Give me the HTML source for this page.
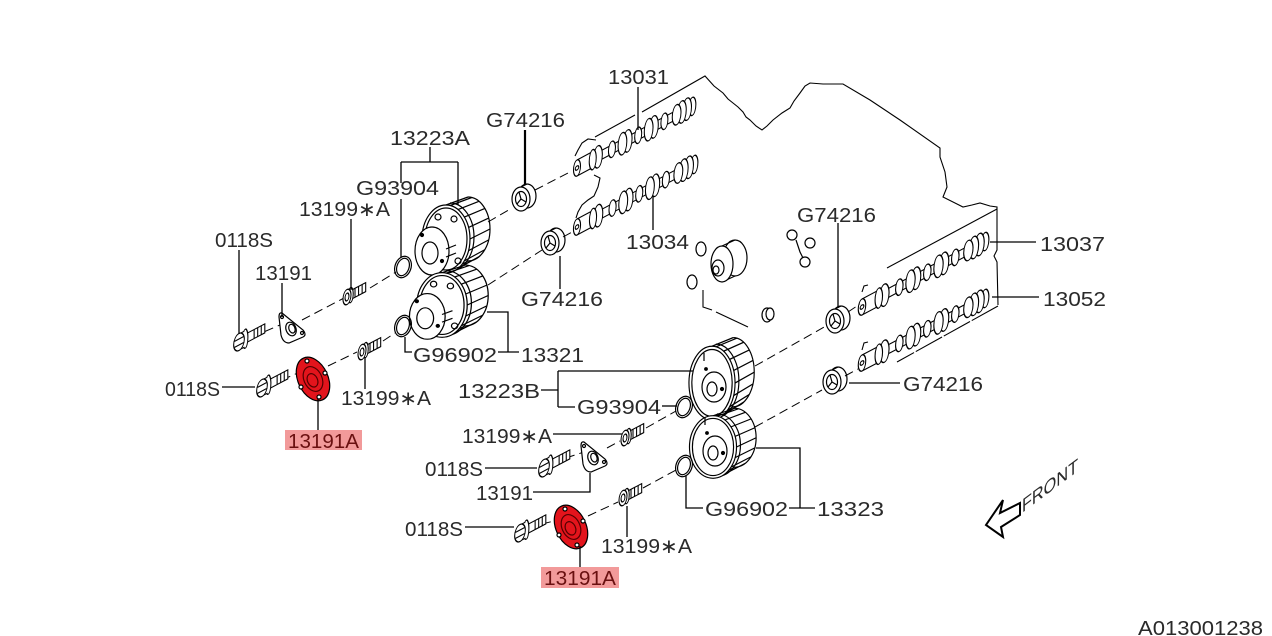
<!DOCTYPE html>
<html><head><meta charset="utf-8"><style>
html,body{margin:0;padding:0;background:#fff;}
svg{display:block;}
text{font-family:"Liberation Sans",sans-serif;font-size:20px;fill:#2a2a2a;}
</style></head><body>
<svg width="1272" height="636" viewBox="0 0 1272 636" xmlns="http://www.w3.org/2000/svg">
<defs>
<g id="cam" stroke="#000" stroke-width="1.2" fill="#fff">
  <rect x="16" y="-4.5" width="104" height="9"/>
  <ellipse cx="132" cy="0" rx="4" ry="9"/>
  <ellipse cx="126" cy="0" rx="5" ry="11"/>
  <ellipse cx="120" cy="0" rx="5" ry="11"/>
  <ellipse cx="114" cy="0" rx="5" ry="10"/>
  <ellipse cx="100" cy="0" rx="4" ry="8"/>
  <ellipse cx="88" cy="0" rx="5" ry="11"/>
  <ellipse cx="82" cy="0" rx="5" ry="11"/>
  <ellipse cx="70" cy="0" rx="4" ry="8"/>
  <ellipse cx="58" cy="0" rx="5" ry="11"/>
  <ellipse cx="52" cy="0" rx="5" ry="11"/>
  <ellipse cx="40" cy="0" rx="4" ry="8"/>
  <ellipse cx="24" cy="0" rx="5" ry="11"/>
  <rect x="0" y="-8" width="20" height="16" stroke="none"/>
  <line x1="0" y1="-8" x2="20" y2="-8"/>
  <line x1="0" y1="8" x2="20" y2="8"/>
  <ellipse cx="18" cy="0" rx="4" ry="10"/>
  <ellipse cx="0" cy="0" rx="4" ry="8"/>
  <circle cx="0" cy="0" r="2"/>
</g>
<g id="spr" stroke="#000" stroke-width="1.2" fill="none">
  <path d="M22,-42 A22,32 0 0 1 22,22"/>
  <path d="M4,-36 A24,34 0 0 1 4,32"/>
  <line x1="0" y1="-34" x2="22" y2="-42"/>
  <line x1="0" y1="34" x2="22" y2="22"/>
  <line x1="4.2" y1="-33.5" x2="25.8" y2="-41.5"/>
  <line x1="12" y1="-29.4" x2="33" y2="-37.7"/>
  <line x1="18.4" y1="-21.9" x2="38.9" y2="-30.6"/>
  <line x1="22.6" y1="-11.6" x2="42.7" y2="-20.9"/>
  <line x1="24" y1="0" x2="44" y2="-10"/>
  <line x1="22.6" y1="11.6" x2="42.7" y2="0.9"/>
  <line x1="18.4" y1="21.9" x2="38.9" y2="10.6"/>
  <line x1="12" y1="29.4" x2="33" y2="17.7"/>
  <line x1="4.2" y1="33.5" x2="25.8" y2="21.5"/>
  <ellipse cx="0" cy="0" rx="24" ry="34" fill="#fff"/>
  <ellipse cx="0" cy="0" rx="21" ry="31"/>
</g>
<g id="vvt" stroke="#000" stroke-width="1.2" fill="none">
  <ellipse cx="-14" cy="12" rx="17" ry="24" fill="#fff"/>
  <ellipse cx="-16" cy="14" rx="8" ry="11"/>
  <circle cx="-8" cy="-22" r="3"/>
  <circle cx="8" cy="-20" r="3"/>
  <circle cx="12" cy="22" r="3"/>
  <circle cx="-24" cy="-4" r="1.5" fill="#000"/>
  <circle cx="-4" cy="22" r="1.5" fill="#000"/>
  <line x1="0" y1="10" x2="10" y2="6"/>
  <line x1="0" y1="18" x2="10" y2="14"/>
</g>
<g id="face" stroke="#000" stroke-width="1.2" fill="none">
  <ellipse cx="2" cy="4" rx="12" ry="15"/>
  <ellipse cx="0" cy="6" rx="5" ry="7"/>
  <line x1="-8" y1="-30" x2="-8" y2="-22"/>
  <circle cx="-6" cy="-14" r="1.3" fill="#000"/>
  <circle cx="10" cy="6" r="1.5" fill="#000"/>
</g>
<g id="seal" stroke="#000" stroke-width="1.2" fill="none">
  <ellipse cx="6" cy="-3" rx="9" ry="12"/>
  <line x1="0" y1="-12" x2="6" y2="-15"/>
  <line x1="0" y1="12" x2="6" y2="9"/>
  <ellipse cx="0" cy="0" rx="9" ry="12" fill="#fff"/>
  <ellipse cx="0" cy="0" rx="5.5" ry="7.5"/>
  <line x1="0" y1="0" x2="-2" y2="-7"/>
  <line x1="0" y1="0" x2="5" y2="3"/>
  <line x1="0" y1="0" x2="-4" y2="5"/>
</g>
<g id="oring" stroke="#000" stroke-width="1.2" fill="none">
  <ellipse cx="0" cy="0" rx="8" ry="11" transform="rotate(20)"/>
  <ellipse cx="0" cy="0" rx="6" ry="9" transform="rotate(20)"/>
</g>
<g id="b1" stroke="#000" stroke-width="1.2" fill="#fff">
  <rect x="4" y="-4.5" width="17" height="9"/>
  <line x1="9" y1="-4.5" x2="9" y2="4.5"/>
  <line x1="13" y1="-4.5" x2="13" y2="4.5"/>
  <line x1="17" y1="-4.5" x2="17" y2="4.5"/>
  <ellipse cx="4" cy="0" rx="3" ry="7.5"/>
  <ellipse cx="0" cy="0" rx="4.5" ry="7.5"/>
  <ellipse cx="0" cy="0" rx="2.2" ry="3.8"/>
</g>
<g id="b2" stroke="#000" stroke-width="1.2" fill="#fff">
  <rect x="7" y="-4.5" width="22" height="9"/>
  <line x1="17" y1="-4.5" x2="17" y2="4.5"/>
  <line x1="21" y1="-4.5" x2="21" y2="4.5"/>
  <line x1="25" y1="-4.5" x2="25" y2="4.5"/>
  <ellipse cx="7" cy="0" rx="3" ry="9.5"/>
  <rect x="0" y="-8" width="6" height="16" stroke="none"/>
  <line x1="0" y1="-8" x2="6" y2="-8"/>
  <line x1="0" y1="8" x2="6" y2="8"/>
  <ellipse cx="0" cy="0" rx="6" ry="8.5"/>
  <line x1="-5" y1="-3" x2="5" y2="-3"/>
  <line x1="-5" y1="3" x2="5" y2="3"/>
</g>
<g id="plt" stroke="#000" stroke-width="1.2" fill="#fff">
  <path d="M-9,-16 L12,1 Q16,6 12,8 L-2,14 Q-8,14 -10,6 L-12,-12 Q-12,-17 -9,-16 Z"/>
  <ellipse cx="0" cy="0" rx="5" ry="7" transform="rotate(-20)"/>
  <ellipse cx="1" cy="0" rx="3" ry="4.5" transform="rotate(-20)"/>
  <circle cx="-9" cy="-12" r="1.5"/>
  <circle cx="11" cy="4" r="1.5"/>
</g>
<g id="red" stroke="#000" stroke-width="1.2">
  <ellipse cx="0" cy="0" rx="15" ry="23" transform="rotate(-25)" fill="#e3141c"/>
  <ellipse cx="0" cy="0" rx="9" ry="13" transform="rotate(-25)" fill="none" stroke="#500"/>
  <ellipse cx="-1" cy="1" rx="5" ry="7" transform="rotate(-25)" fill="none" stroke="#500"/>
  <circle cx="-6" cy="-18" r="2" fill="#fff"/>
  <circle cx="12" cy="-6" r="2" fill="#fff"/>
  <circle cx="-12" cy="8" r="2" fill="#fff"/>
  <circle cx="6" cy="18" r="2" fill="#fff"/>
</g>
</defs>

<!-- engine block outline -->
<g stroke="#000" stroke-width="1.1" fill="none">
  <polyline points="642,112 705,76 714,86 723,93 728,99 733,103 738,107 743,112 746,117 750,120 756,126 762,130 767,126 773,120 782,113 790,108 794,101 800,93 805,86 810,83 823,84 833,84 843,84 870,100 900,120 940,148 940,157 945,172 947,187 943,197 955,203 963,207 972,205 980,203 990,206 997,207 997,250 994,256 997,262 998,305"/>
  <line x1="997" y1="209" x2="887" y2="268"/>
  <line x1="998" y1="306" x2="897" y2="362" stroke-dasharray="30 2"/>
  <line x1="635" y1="115" x2="595" y2="137"/>
  <polyline points="596,140 588,139 582,143 578,150 575,156"/>
  <polyline points="594,175 600,178 598,187 594,196 588,200 582,205 578,212 576,218"/>
  <polyline points="703,290 703,307 712,310"/>
  <line x1="716" y1="312" x2="748" y2="327"/>
  <polyline points="862,292 864,286 868,285"/>
  <polyline points="862,350 864,343 868,342"/>
</g>

<!-- camshafts -->
<use href="#cam" transform="matrix(0.874,-0.467,0,1,577,168)"/>
<use href="#cam" transform="matrix(0.889,-0.474,0,1,577,227)"/>
<use href="#cam" transform="matrix(0.933,-0.496,0,1,862,307)"/>
<use href="#cam" transform="matrix(0.933,-0.489,0,1,862,363)"/>

<!-- dashed axes -->
<g stroke="#000" stroke-width="1" stroke-dasharray="9 5" fill="none">
  <line x1="252" y1="337" x2="280" y2="325"/>
  <line x1="302" y1="320" x2="344" y2="298"/>
  <line x1="370" y1="288" x2="396" y2="272"/>
  <line x1="488" y1="222" x2="512" y2="208"/>
  <line x1="535" y1="190" x2="570" y2="172"/>
  <line x1="282" y1="380" x2="300" y2="372"/>
  <line x1="328" y1="366" x2="357" y2="352"/>
  <line x1="383" y1="341" x2="395" y2="333"/>
  <line x1="488" y1="285" x2="542" y2="250"/>
  <line x1="563" y1="237" x2="572" y2="232"/>
  <line x1="566" y1="458" x2="584" y2="452"/>
  <line x1="607" y1="448" x2="620" y2="441"/>
  <line x1="646" y1="428" x2="676" y2="411"/>
  <line x1="755" y1="366" x2="826" y2="326"/>
  <line x1="848" y1="312" x2="860" y2="304"/>
  <line x1="542" y1="524" x2="558" y2="520"/>
  <line x1="588" y1="516" x2="618" y2="502"/>
  <line x1="643" y1="488" x2="676" y2="470"/>
  <line x1="755" y1="427" x2="822" y2="390"/>
  <line x1="845" y1="376" x2="858" y2="369"/>
</g>

<!-- misc middle parts -->
<g stroke="#000" stroke-width="1.2" fill="#fff">
  <ellipse cx="701" cy="249" rx="5" ry="7"/>
  <ellipse cx="735" cy="258" rx="12" ry="18"/>
  <line x1="722" y1="246" x2="735" y2="240"/>
  <line x1="722" y1="282" x2="735" y2="276"/>
  <ellipse cx="722" cy="264" rx="11" ry="18"/>
  <ellipse cx="718" cy="268" rx="6" ry="8"/>
  <ellipse cx="716" cy="270" rx="3" ry="4"/>
  <ellipse cx="692" cy="282" rx="5" ry="7"/>
  <ellipse cx="767" cy="315" rx="5" ry="7"/>
  <ellipse cx="770" cy="314" rx="4" ry="6"/>
  <circle cx="792" cy="235" r="5"/>
  <circle cx="810" cy="243" r="5"/>
  <circle cx="805" cy="262" r="5"/>
  <polyline points="796,240 800,252 803,258" fill="none"/>
</g>

<!-- seals -->
<use href="#seal" transform="translate(521,199)"/>
<use href="#seal" transform="translate(550,243)"/>
<use href="#seal" transform="translate(835,321)"/>
<use href="#seal" transform="translate(832,382)"/>

<!-- sprockets -->
<use href="#spr" transform="translate(446,239)"/>
<use href="#vvt" transform="translate(446,239)"/>
<use href="#spr" transform="translate(442,305) scale(1.05,0.95)"/>
<use href="#vvt" transform="translate(442,305) scale(1.05,0.95)"/>
<use href="#spr" transform="translate(712,383) scale(0.96,1.08)"/>
<use href="#face" transform="translate(712,383)"/>
<use href="#spr" transform="translate(713,447) scale(0.98,0.92)"/>
<use href="#face" transform="translate(713,447)"/>

<!-- o-rings -->
<use href="#oring" transform="translate(403,267)"/>
<use href="#oring" transform="translate(403,326)"/>
<use href="#oring" transform="translate(684,407)"/>
<use href="#oring" transform="translate(684,466)"/>

<!-- bolts -->
<use href="#b1" transform="matrix(0.89,-0.47,0,1,347,297)"/>
<use href="#b1" transform="matrix(0.89,-0.47,0,1,362,352)"/>
<use href="#b1" transform="matrix(0.89,-0.47,0,1,625,438)"/>
<use href="#b1" transform="matrix(0.89,-0.47,0,1,623,498)"/>
<use href="#b2" transform="matrix(0.89,-0.47,0,1,239,342)"/>
<use href="#b2" transform="matrix(0.89,-0.47,0,1,262,388)"/>
<use href="#b2" transform="matrix(0.89,-0.47,0,1,544,468)"/>
<use href="#b2" transform="matrix(0.89,-0.47,0,1,520,533)"/>

<!-- plates -->
<use href="#plt" transform="translate(291,329)"/>
<use href="#plt" transform="translate(593,458)"/>
<use href="#red" transform="translate(313,379)"/>
<use href="#red" transform="translate(571,527)"/>

<!-- leaders -->
<g stroke="#000" stroke-width="1.3" fill="none">
  <path d="M638,87 V130"/>
  <path d="M525,130 V184" stroke-width="2.2"/>
  <path d="M430,147 V162 M401,162 H458 M401,162 V183 M458,162 V205"/>
  <path d="M401,199 V257"/>
  <path d="M351,219 V290"/>
  <path d="M239,250 V334"/>
  <path d="M282,283 V317"/>
  <path d="M653,196 V230"/>
  <path d="M560,256 V289"/>
  <path d="M838,223 V308"/>
  <path d="M990,242 H1036"/>
  <path d="M992,297 H1039"/>
  <path d="M405,337 V352 H412"/>
  <path d="M487,312 H508 V352 M498,352 H519"/>
  <path d="M222,387 H255"/>
  <path d="M365,358 V389"/>
  <path d="M318,399 V430"/>
  <path d="M541,390 H558 M558,371 V407 M558,371 H693 M558,407 H575"/>
  <path d="M662,406 H677"/>
  <path d="M849,383 H900"/>
  <path d="M553,434 H622"/>
  <path d="M485,468 H537"/>
  <path d="M533,492 H590 V473"/>
  <path d="M686,476 V508 H703"/>
  <path d="M756,448 H800 V508 M789,508 H815"/>
  <path d="M465,527 H514"/>
  <path d="M627,506 V537"/>
  <path d="M580,546 V567"/>
</g>

<!-- highlight boxes -->
<rect x="285" y="430" width="77" height="20" fill="#f29a9a"/>
<rect x="541" y="567" width="78" height="21" fill="#f29a9a"/>

<!-- labels -->
<text x="608" y="84" textLength="61" lengthAdjust="spacingAndGlyphs">13031</text>
<text x="486" y="127" textLength="79" lengthAdjust="spacingAndGlyphs">G74216</text>
<text x="390" y="145" textLength="80" lengthAdjust="spacingAndGlyphs">13223A</text>
<text x="356" y="195" textLength="83" lengthAdjust="spacingAndGlyphs">G93904</text>
<text x="299" y="216" textLength="91" lengthAdjust="spacingAndGlyphs">13199∗A</text>
<text x="215" y="247" textLength="58" lengthAdjust="spacingAndGlyphs">0118S</text>
<text x="255" y="280" textLength="57" lengthAdjust="spacingAndGlyphs">13191</text>
<text x="626" y="249" textLength="63" lengthAdjust="spacingAndGlyphs">13034</text>
<text x="521" y="306" textLength="82" lengthAdjust="spacingAndGlyphs">G74216</text>
<text x="797" y="222" textLength="79" lengthAdjust="spacingAndGlyphs">G74216</text>
<text x="1040" y="251" textLength="65" lengthAdjust="spacingAndGlyphs">13037</text>
<text x="1043" y="306" textLength="63" lengthAdjust="spacingAndGlyphs">13052</text>
<text x="413" y="362" textLength="84" lengthAdjust="spacingAndGlyphs">G96902</text>
<text x="521" y="362" textLength="63" lengthAdjust="spacingAndGlyphs">13321</text>
<text x="165" y="396" textLength="55" lengthAdjust="spacingAndGlyphs">0118S</text>
<text x="341" y="405" textLength="90" lengthAdjust="spacingAndGlyphs">13199∗A</text>
<text x="288" y="448" textLength="71" lengthAdjust="spacingAndGlyphs" style="fill:#6a1010">13191A</text>
<text x="458" y="398" textLength="82" lengthAdjust="spacingAndGlyphs">13223B</text>
<text x="577" y="414" textLength="84" lengthAdjust="spacingAndGlyphs">G93904</text>
<text x="903" y="391" textLength="80" lengthAdjust="spacingAndGlyphs">G74216</text>
<text x="462" y="443" textLength="90" lengthAdjust="spacingAndGlyphs">13199∗A</text>
<text x="425" y="476" textLength="58" lengthAdjust="spacingAndGlyphs">0118S</text>
<text x="476" y="500" textLength="57" lengthAdjust="spacingAndGlyphs">13191</text>
<text x="705" y="516" textLength="83" lengthAdjust="spacingAndGlyphs">G96902</text>
<text x="817" y="516" textLength="67" lengthAdjust="spacingAndGlyphs">13323</text>
<text x="405" y="536" textLength="58" lengthAdjust="spacingAndGlyphs">0118S</text>
<text x="601" y="553" textLength="91" lengthAdjust="spacingAndGlyphs">13199∗A</text>
<text x="544" y="585" textLength="72" lengthAdjust="spacingAndGlyphs" style="fill:#6a1010">13191A</text>
<text x="1138" y="635" textLength="125" lengthAdjust="spacingAndGlyphs">A013001238</text>

<!-- FRONT arrow -->
<polygon points="1003,500 986,525 1003,537 1001,527 1020,515 1020,503 1000,513" fill="none" stroke="#000" stroke-width="2"/>
<text transform="matrix(0.8,-0.6,0,1,1022,513)" x="0" y="0" textLength="70" lengthAdjust="spacingAndGlyphs" style="font-size:19px">FRONT</text>
</svg>
</body></html>
